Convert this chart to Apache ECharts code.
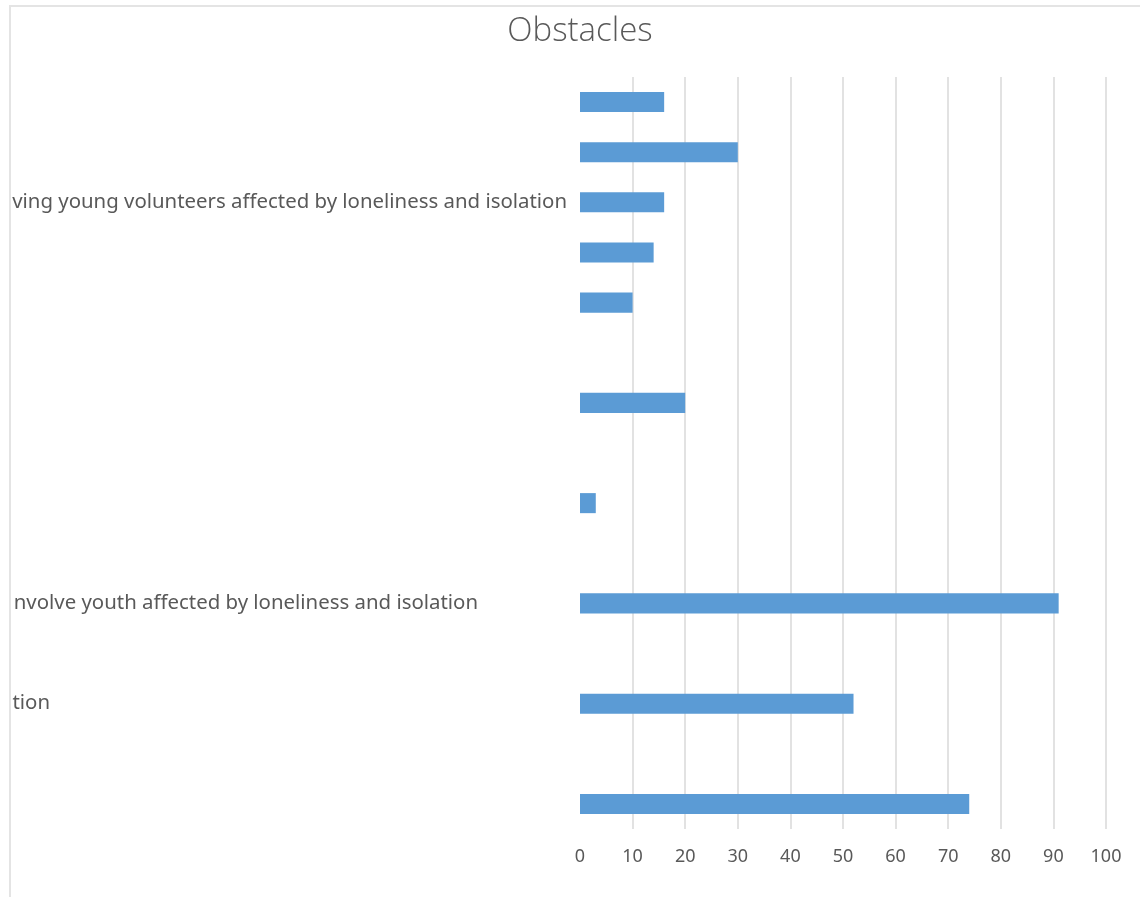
<!DOCTYPE html>
<html>
<head>
<meta charset="utf-8">
<script src="https://cdn.jsdelivr.net/npm/echarts@6/dist/echarts.min.js"></script>
<style>
  html, body { margin: 0; padding: 0; background: #fff; width: 1140px; height: 897px; overflow: hidden; }
  #frame {
    position: absolute; left: 9px; top: 5px; width: 1140px; height: 900px;
    border-top: 2px solid #e4e4e4; border-left: 2px solid #e4e4e4;
    overflow: hidden;
  }
  #chart { position: absolute; left: 0; top: -7px; width: 1129px; height: 904px; }
</style>
</head>
<body>
<div id="frame"><div id="chart"></div></div>
<script>
// Obstacles: one horizontal bar per category, read top to bottom
const categories = [
  '', '',
  'ving young volunteers affected by loneliness and isolation',
  '', '', '', '', '', '', '',
  'nvolve youth affected by loneliness and isolation',
  '',
  'ition',
  '', ''
];
const values = [16, 30, 16, 14, 10, null, 20, null, 3, null, 91, null, 52, null, 74];
const xTicks = [0, 10, 20, 30, 40, 50, 60, 70, 80, 90, 100];

// Extra right padding for the labels that sit further left of the axis
const labelShift = { 10: 89, 12: 517 };

const FONT = 'Noto Sans';
const LABEL_SIZE = 20.4;
const chart = echarts.init(document.getElementById('chart'), null, { renderer: 'canvas' });

const richStyles = { base: { fontSize: LABEL_SIZE, color: '#595959', fontFamily: FONT } };
Object.keys(labelShift).forEach(k => {
  richStyles['s' + k] = { fontSize: LABEL_SIZE, color: '#595959', fontFamily: FONT, padding: [0, labelShift[k], 0, 0] };
});

chart.setOption({
  animation: false,
  backgroundColor: 'transparent',
  title: {
    text: 'Obstacles',
    left: 564,
    top: 10,
    textAlign: 'center',
    textStyle: { fontFamily: 'Open Sans', fontSize: 33, fontWeight: 300, color: '#595959' }
  },
  grid: { left: 569, right: 34, top: 77, bottom: 75, containLabel: false, outerBoundsMode: 'none' },
  xAxis: {
    type: 'value',
    min: xTicks[0],
    max: xTicks[xTicks.length - 1],
    interval: 10,
    axisLine: { show: false },
    axisTick: { show: false },
    axisLabel: {
      margin: 19,
      color: '#595959',
      fontSize: 18,
      fontFamily: FONT,
      formatter: v => xTicks.includes(v) ? String(v) : ''
    },
    splitLine: { show: true, showMinLine: false, lineStyle: { color: '#d9d9d9', width: 1.5 } }
  },
  yAxis: {
    type: 'category',
    data: categories,
    inverse: true,
    axisLine: { show: false },
    axisTick: { show: false },
    axisLabel: {
      margin: 13,
      interval: 0,
      formatter: (val, idx) => {
        if (!val) return '';
        const key = labelShift[idx] !== undefined ? 's' + idx : 'base';
        return '{' + key + '|' + val + '}';
      },
      rich: richStyles
    }
  },
  series: [{
    type: 'bar',
    data: values,
    barWidth: '40%',
    itemStyle: { color: '#5b9bd5' }
  }]
});
</script>
</body>
</html>
